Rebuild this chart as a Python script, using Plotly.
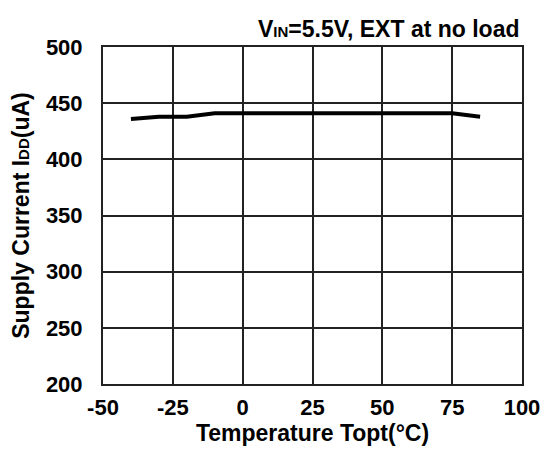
import plotly.graph_objects as go

temps = [-40, -30, -20, -10, 0, 25, 50, 75, 85]
current = [436, 438, 438, 441, 441, 441, 441, 441, 438]
x_ticks = [-50, -25, 0, 25, 50, 75, 100]
x_tick_labels = ["-50", "-25", "0", "25", "50", "75", "100"]
y_ticks = [200, 250, 300, 350, 400, 450, 500]

font = "Liberation Sans, Arial, sans-serif"
tsize = 22
lsize = 23

fig = go.Figure()
fig.add_trace(go.Scatter(x=temps, y=current, mode="lines",
                         line=dict(color="black", width=4), showlegend=False))

axis_common = dict(showgrid=True, gridcolor="#222", gridwidth=2,
                   showline=True, linecolor="#222", linewidth=2, mirror=True,
                   zeroline=False, ticks="", automargin=False,
                   tickfont=dict(family=font, size=tsize, color="black", weight="bold"))

fig.update_xaxes(range=[-50, 100], tickvals=x_ticks, ticktext=x_tick_labels,
                 ticklabelstandoff=3, **axis_common,
                 title=dict(text="Temperature Topt(°C)",
                            font=dict(family=font, size=lsize, color="black", weight="bold"), standoff=2))
fig.update_yaxes(range=[200, 500], tickvals=y_ticks, ticklabelstandoff=14, **axis_common,
                 title=dict(text="Supply Current I<span style='font-size:15px'>DD</span>(uA)",
                            font=dict(family=font, size=lsize, color="black", weight="bold"), standoff=10))

fig.add_annotation(text="V<span style='font-size:15px'>IN</span>=5.5V, EXT at no load",
                   xref="paper", yref="paper", x=1, y=1, xanchor="right", yanchor="bottom",
                   yshift=3, showarrow=False,
                   font=dict(family=font, size=lsize, color="black", weight="bold"))

fig.update_layout(width=544, height=454, margin=dict(l=103, r=22, t=47, b=70),
                  plot_bgcolor="white", paper_bgcolor="white")

fig.write_html("out.html", config={"displayModeBar": False},
               post_script="document.body.style.margin='0';document.body.style.overflow='hidden';")
